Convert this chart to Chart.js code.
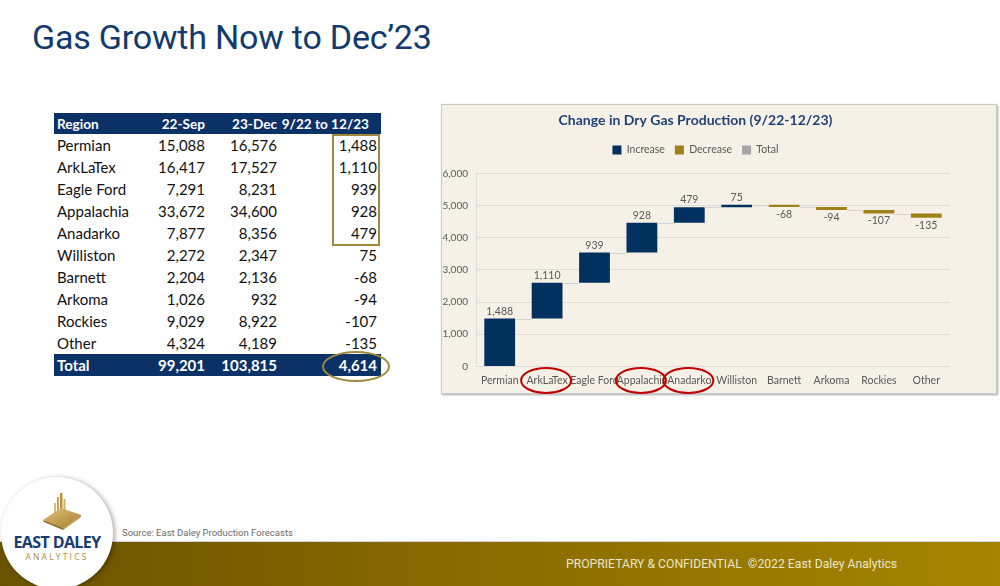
<!DOCTYPE html>
<html>
<head>
<meta charset="utf-8">
<script src="https://cdn.jsdelivr.net/npm/chart.js@4.4.1/dist/chart.umd.min.js"></script>
<style>
  html, body { margin: 0; padding: 0; }
  body { width: 1000px; height: 586px; position: relative; overflow: hidden; background: #fff; font-family: Roboto, sans-serif; }
  #title { position: absolute; left: 32px; top: 17px; font-size: 34px; color: #123a6f; font-family: Roboto, sans-serif; letter-spacing: -0.2px; }
  #tbl { position: absolute; left: 54px; top: 113px; width: 327px; border-collapse: collapse; table-layout: fixed; font-family: Lato, sans-serif; font-size: 15px; color: #111; }
  #tbl td { padding: 0; height: 22px; white-space: nowrap; text-align: right; box-sizing: border-box; }
  #tbl td:first-child { text-align: left; padding-left: 3px; }
  #tbl tr.head td, #tbl tr.total td { background: #0b3166; color: #fff; font-weight: bold; }
  #tbl tr.head td { height: 21px; font-size: 13.6px; }
  #goldBox { position: absolute; left: 332px; top: 134px; width: 48px; height: 112px; border: 2px solid #a0893a; box-sizing: border-box; }
  #goldRing { position: absolute; left: 322px; top: 351px; width: 68px; height: 31px; border: 2px solid #a0893a; border-radius: 50%; box-sizing: border-box; }
  #panel { position: absolute; left: 441px; top: 104px; width: 556px; height: 290px; background: #f5f1e7; border: 1px solid #c9c9c9; box-shadow: 1px 1px 2px rgba(0,0,0,0.35); box-sizing: border-box; }
  #gasChart { position: absolute; left: 441px; top: 104px; }
  #band { position: absolute; left: 0; top: 541px; width: 1000px; height: 45px; background: linear-gradient(90deg, #6a5300 0%, #8a6c00 50%, #a68600 100%); border-top: 1px solid #d6d6d6; }
  #conf { position: absolute; left: 566px; top: 557px; font-size: 12.2px; color: #ece5cc; letter-spacing: 0; }
  #source { position: absolute; left: 122px; top: 527px; font-size: 9.5px; color: #6b6b6b; }
  #logo { position: absolute; left: 1px; top: 477px; width: 112px; height: 112px; border-radius: 50%; background: #fff; box-shadow: 2px 1px 5px rgba(0,0,0,0.35); }
  #logo .name { position: absolute; left: 0; width: 112px; top: 54px; text-align: center; font-weight: bold; font-size: 16px; color: #163c72; letter-spacing: -0.6px; font-family: "Open Sans", sans-serif; }
  #logo .sub { position: absolute; left: 0; width: 112px; top: 74px; text-align: center; font-size: 8.5px; color: #b08a3a; letter-spacing: 2.2px; font-family: "Open Sans", sans-serif; }
  #logo svg { position: absolute; left: 0; top: 0; }
</style>
</head>
<body>
<div id="title">Gas Growth Now to Dec’23</div>

<table id="tbl">
  <colgroup><col style="width:96px"><col style="width:57px"><col style="width:72px"><col style="width:102px"></colgroup>
  <tbody id="tbody"></tbody>
</table>
<div id="goldBox"></div>
<div id="goldRing"></div>

<div id="panel"></div>
<canvas id="gasChart" width="556" height="296"></canvas>

<div id="source">Source: East Daley Production Forecasts</div>
<div id="band"></div>
<div id="conf">PROPRIETARY &amp; CONFIDENTIAL&nbsp; ©2022 East Daley Analytics</div>

<div id="logo">
  <svg width="112" height="112" viewBox="0 0 112 112">
    <defs>
      <linearGradient id="g1" x1="0" y1="0" x2="1" y2="1">
        <stop offset="0" stop-color="#e2c27a"/><stop offset="1" stop-color="#a67c2c"/>
      </linearGradient>
    </defs>
    <rect x="56" y="20" width="2" height="16" fill="#c9a25a"/>
    <rect x="59" y="16" width="2.5" height="20" fill="#b8913f"/>
    <rect x="62.5" y="22" width="2" height="14" fill="#d4b06a"/>
    <rect x="53" y="26" width="2" height="10" fill="#d9ba78"/>
    <polygon points="42,43 60,31 80,38 63,51" fill="url(#g1)"/>
    <polygon points="42,43 63,51 62,53 43,45" fill="#8f6a22"/>
    <polygon points="63,51 80,38 80,40 62,53" fill="#b58d3c"/>
  </svg>
  <div class="name">EAST DALEY</div>
  <div class="sub">ANALYTICS</div>
</div>

<script>
// table + chart data
const regions = ['Permian', 'ArkLaTex', 'Eagle Ford', 'Appalachia', 'Anadarko', 'Williston', 'Barnett', 'Arkoma', 'Rockies', 'Other'];
const sep22 = [15088, 16417, 7291, 33672, 7877, 2272, 2204, 1026, 9029, 4324];
const dec23 = [16576, 17527, 8231, 34600, 8356, 2347, 2136, 932, 8922, 4189];
const change = [1488, 1110, 939, 928, 479, 75, -68, -94, -107, -135];
const totals = [99201, 103815, 4614];
const headers = ['Region', '22-Sep', '23-Dec', '9/22 to 12/23'];
const circled = ['ArkLaTex', 'Appalachia', 'Anadarko'];
const yTicks = [0, 1000, 2000, 3000, 4000, 5000, 6000];

const fmt = v => v.toLocaleString('en-US');

// build the table
const tbody = document.getElementById('tbody');
const pad = ['', 'padding-right:2px', 'padding-right:2px', 'padding-right:4px'];
const headPad = ['', 'padding-right:2px', 'padding-right:2px', 'padding-right:12px'];
const row = (cells, pads) => cells.map((c, i) => '<td style="' + pads[i] + '">' + c + '</td>').join('');
let html = '<tr class="head">' + row(headers, headPad) + '</tr>';
regions.forEach((r, i) => {
    html += '<tr>' + row([r, fmt(sep22[i]), fmt(dec23[i]), fmt(change[i])], pad) + '</tr>';
});
html += '<tr class="total">' + row(['Total'].concat(totals.map(fmt)), pad) + '</tr>';
tbody.innerHTML = html;

// waterfall ranges
const cum = [];
change.reduce((acc, v, i) => { cum[i] = acc + v; return cum[i]; }, 0);
const incData = change.map((v, i) => v >= 0 ? [cum[i] - v, cum[i]] : null);
const decData = change.map((v, i) => v < 0 ? [cum[i] - v, cum[i]] : null);

const labelColor = '#595959';

const waterfallExtras = {
    id: 'waterfallExtras',
    beforeInit(chart) {
        const fit = chart.legend.fit;
        chart.legend.fit = function () { fit.call(this); this.height += 8; };
    },
    afterDatasetsDraw(chart) {
        const ctx = chart.ctx;
        const y = chart.scales.y;
        const inc = chart.getDatasetMeta(0).data;
        const dec = chart.getDatasetMeta(1).data;
        const bars = change.map((v, i) => v >= 0 ? inc[i] : dec[i]);
        ctx.save();
        // connectors
        ctx.strokeStyle = '#d4d4d4';
        ctx.lineWidth = 1;
        for (let i = 0; i < bars.length - 1; i++) {
            const a = bars[i], b = bars[i + 1];
            const py = Math.round(y.getPixelForValue(cum[i])) + 0.5;
            ctx.beginPath();
            ctx.moveTo(a.x + a.width / 2, py);
            ctx.lineTo(b.x - b.width / 2, py);
            ctx.stroke();
        }
        // value labels
        ctx.fillStyle = labelColor;
        ctx.font = '10.5px Lato, sans-serif';
        ctx.textAlign = 'center';
        bars.forEach((bar, i) => {
            const top = Math.min(bar.y, bar.base), bottom = Math.max(bar.y, bar.base);
            if (change[i] >= 0) {
                ctx.textBaseline = 'bottom';
                ctx.fillText(fmt(change[i]), bar.x, top - 2);
            } else {
                ctx.textBaseline = 'top';
                ctx.fillText(fmt(change[i]), bar.x, bottom + 2);
            }
        });
        ctx.restore();
    },
    afterDraw(chart) {
        const ctx = chart.ctx;
        const x = chart.scales.x;
        const cy = chart.chartArea.bottom + 14;
        ctx.save();
        ctx.strokeStyle = '#c00000';
        ctx.lineWidth = 2;
        circled.forEach(name => {
            const cx = x.getPixelForValue(regions.indexOf(name));
            ctx.beginPath();
            ctx.ellipse(cx - 1, cy, 25, 12.5, 0, 0, Math.PI * 2);
            ctx.stroke();
        });
        ctx.restore();
    }
};

new Chart(document.getElementById('gasChart'), {
    type: 'bar',
    data: {
        labels: regions,
        datasets: [{
            label: 'Increase',
            data: incData,
            backgroundColor: '#02315f'
        }, {
            label: 'Decrease',
            data: decData,
            backgroundColor: '#a08119'
        }, {
            label: 'Total',
            data: regions.map(() => null),
            backgroundColor: '#a6a6a6'
        }]
    },
    options: {
        responsive: false,
        animation: false,
        layout: { padding: { left: 0, right: 47, top: 0, bottom: 5 } },
        datasets: { bar: { grouped: false, categoryPercentage: 1, barPercentage: 0.65 } },
        plugins: {
            title: {
                display: true,
                text: 'Change in Dry Gas Production (9/22-12/23)',
                color: '#1f4275',
                font: { family: 'Lato, sans-serif', size: 14, weight: 'bold' },
                padding: { top: 8, bottom: 6 }
            },
            legend: {
                position: 'top',
                labels: {
                    boxWidth: 9,
                    boxHeight: 9,
                    padding: 10,
                    color: labelColor,
                    font: { family: 'Lato, sans-serif', size: 10.5 }
                }
            },
            tooltip: { enabled: false }
        },
        scales: {
            x: {
                grid: { display: false, drawTicks: false },
                border: { display: false },
                ticks: { color: labelColor, padding: 8, font: { family: 'Lato, sans-serif', size: 10.5 }, maxRotation: 0, autoSkip: false }
            },
            y: {
                min: 0,
                max: 6000,
                afterFit: s => { s.width = 35; },
                afterBuildTicks: s => { s.ticks = yTicks.map(v => ({ value: v })); },
                grid: { color: '#dcdcdc', drawTicks: false },
                border: { color: '#dcdcdc' },
                ticks: { color: labelColor, padding: 8, font: { family: 'Lato, sans-serif', size: 10 }, callback: v => fmt(v) }
            }
        }
    },
    plugins: [waterfallExtras]
});
</script>
</body>
</html>
